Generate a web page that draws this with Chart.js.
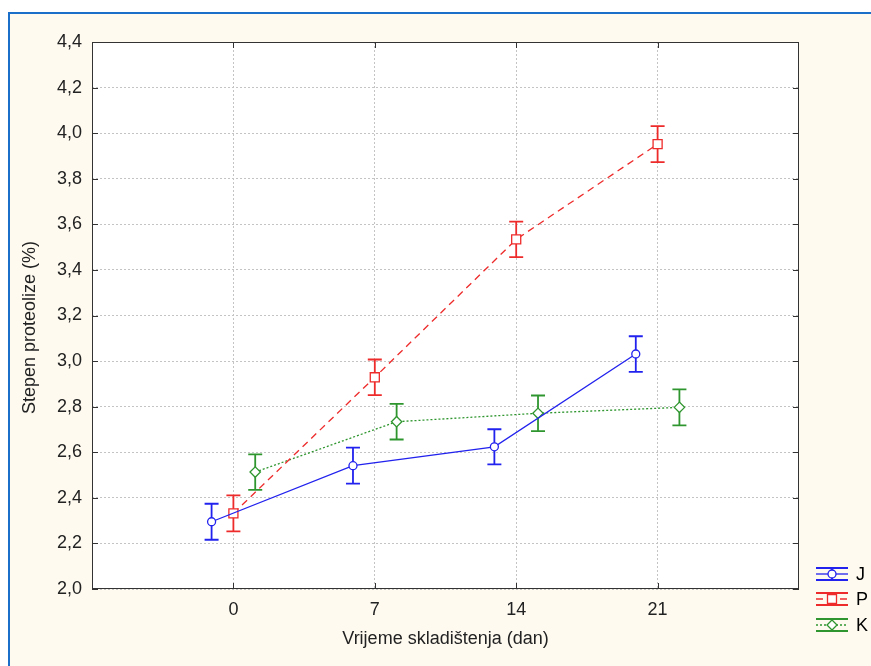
<!DOCTYPE html>
<html>
<head>
<meta charset="utf-8">
<script src="https://cdn.jsdelivr.net/npm/chart.js@4/dist/chart.umd.min.js"></script>
<style>
  html, body { margin: 0; padding: 0; background: #ffffff; }
  #wrap { width: 871px; height: 666px; }
</style>
</head>
<body>
<div id="wrap"><canvas id="c" width="871" height="666"></canvas></div>
<script>
// Storage days and tick labels
const days = [0, 7, 14, 21];
const xTickLabels = ['0', '7', '14', '21'];
const yTicks = [2.0, 2.2, 2.4, 2.6, 2.8, 3.0, 3.2, 3.4, 3.6, 3.8, 4.0, 4.2, 4.4];

// Series names
const seriesNames = ['J', 'P', 'K'];

// Means and error half-widths for each series
const jMean = [2.295, 2.541, 2.624, 3.031];
const jErr  = [0.079, 0.079, 0.077, 0.078];
const pMean = [2.332, 2.929, 3.534, 3.952];
const pErr  = [0.079, 0.078, 0.078, 0.079];
const kMean = [2.513, 2.734, 2.771, 2.797];
const kErr  = [0.078, 0.078, 0.078, 0.079];

const FONT = "'Liberation Sans', Arial, sans-serif";
const styles = [
  { color: '#2222ee', dash: [], point: 'circle', radius: 4, icon: 4 },
  { color: '#ee2b2b', dash: [7, 5], point: 'rect', radius: 6.4, icon: 4.5 },
  { color: '#2f962f', dash: [2, 2], point: 'rectRot', radius: 5.2, icon: 5 }
];
const dodge = [-1.08, 0, 1.08];
const means = [jMean, pMean, kMean];
const errs = [jErr, pErr, kErr];

const datasets = seriesNames.map((name, s) => ({
  label: name,
  data: days.map((d, i) => ({ x: d + dodge[s], y: means[s][i] })),
  errors: errs[s],
  iconSize: styles[s].icon,
  borderColor: styles[s].color,
  backgroundColor: '#ffffff',
  borderWidth: 1.3,
  borderDash: styles[s].dash,
  pointStyle: styles[s].point,
  pointRadius: styles[s].radius,
  pointBorderWidth: 1.3,
  pointBorderColor: styles[s].color,
  pointBackgroundColor: '#ffffff',
  tension: 0,
  fill: false
}));

// Frame, panel background and white plot area
const backdrop = {
  id: 'backdrop',
  beforeDraw(chart) {
    const { ctx, chartArea: a } = chart;
    ctx.save();
    ctx.fillStyle = '#ffffff';
    ctx.fillRect(0, 0, chart.width, chart.height);
    ctx.fillStyle = '#fefaf0';
    ctx.fillRect(9, 14, chart.width - 9, chart.height - 14);
    ctx.fillStyle = '#1b6fc9';
    ctx.fillRect(8, 12, chart.width - 8, 2);
    ctx.fillRect(8, 12, 2, chart.height - 12);
    ctx.fillStyle = '#ffffff';
    ctx.fillRect(a.left, a.top, a.right - a.left, a.bottom - a.top);
    ctx.restore();
  }
};

// Error bars drawn under the markers
const errorBars = {
  id: 'errorBars',
  beforeDatasetsDraw(chart) {
    const { ctx } = chart;
    const ys = chart.scales.y;
    ctx.save();
    chart.data.datasets.forEach((ds, s) => {
      const meta = chart.getDatasetMeta(s);
      ctx.strokeStyle = ds.borderColor;
      ctx.lineWidth = 1.8;
      ctx.setLineDash([]);
      meta.data.forEach((pt, i) => {
        const v = ds.data[i].y, e = ds.errors[i];
        const yTop = ys.getPixelForValue(v + e);
        const yBot = ys.getPixelForValue(v - e);
        const x = pt.x, cap = 7;
        ctx.beginPath();
        ctx.moveTo(x, yTop); ctx.lineTo(x, yBot);
        ctx.moveTo(x - cap, yTop); ctx.lineTo(x + cap, yTop);
        ctx.moveTo(x - cap, yBot); ctx.lineTo(x + cap, yBot);
        ctx.stroke();
      });
    });
    ctx.restore();
  }
};

// Plot box, inward tick marks, y title and the legend
const frame = {
  id: 'frame',
  afterDraw(chart) {
    const { ctx, chartArea: a } = chart;
    const xs = chart.scales.x, ys = chart.scales.y;
    ctx.save();
    ctx.strokeStyle = '#333333';
    ctx.lineWidth = 1;
    ctx.setLineDash([]);
    ctx.strokeRect(Math.round(a.left) + 0.5, Math.round(a.top) + 0.5,
      Math.round(a.right - a.left) - 1, Math.round(a.bottom - a.top) - 1);
    ctx.beginPath();
    const t = 6;
    ys.ticks.forEach(tk => {
      const y = Math.round(ys.getPixelForValue(tk.value)) + 0.5;
      ctx.moveTo(a.left, y); ctx.lineTo(a.left + t, y);
      ctx.moveTo(a.right - t, y); ctx.lineTo(a.right, y);
    });
    xs.ticks.forEach(tk => {
      const x = Math.round(xs.getPixelForValue(tk.value)) + 0.5;
      ctx.moveTo(x, a.bottom); ctx.lineTo(x, a.bottom - t);
      ctx.moveTo(x, a.top); ctx.lineTo(x, a.top + t);
    });
    ctx.stroke();

    // y axis title
    ctx.save();
    ctx.translate(30, (a.top + a.bottom) / 2 + 12);
    ctx.rotate(-Math.PI / 2);
    ctx.fillStyle = '#222222';
    ctx.font = '18px ' + FONT;
    ctx.textAlign = 'center';
    ctx.textBaseline = 'middle';
    ctx.fillText('Stepen proteolize (%)', 0, 0);
    ctx.restore();

    // legend
    const lx0 = 816, lx1 = 848, lxm = 832;
    const rows = [574, 599, 625];
    chart.data.datasets.forEach((ds, s) => {
      const yc = rows[s], h = 6;
      ctx.strokeStyle = ds.borderColor;
      ctx.lineWidth = 1.8;
      ctx.setLineDash([]);
      ctx.beginPath();
      ctx.moveTo(lx0, yc - h); ctx.lineTo(lx1, yc - h);
      ctx.moveTo(lx0, yc + h); ctx.lineTo(lx1, yc + h);
      ctx.moveTo(lxm, yc - h); ctx.lineTo(lxm, yc + h);
      ctx.stroke();
      ctx.lineWidth = 1.3;
      ctx.setLineDash(ds.borderDash);
      ctx.beginPath();
      ctx.moveTo(lx0, yc); ctx.lineTo(lx1, yc);
      ctx.stroke();
      ctx.setLineDash([]);
      ctx.fillStyle = '#ffffff';
      ctx.lineWidth = 1.3;
      ctx.beginPath();
      const r = ds.iconSize;
      if (ds.pointStyle === 'circle') {
        ctx.arc(lxm, yc, r, 0, Math.PI * 2);
      } else if (ds.pointStyle === 'rect') {
        ctx.rect(lxm - r, yc - r, 2 * r, 2 * r);
      } else {
        ctx.moveTo(lxm, yc - r); ctx.lineTo(lxm + r, yc);
        ctx.lineTo(lxm, yc + r); ctx.lineTo(lxm - r, yc); ctx.closePath();
      }
      ctx.fill(); ctx.stroke();
      ctx.fillStyle = '#000000';
      ctx.font = '18px ' + FONT;
      ctx.textBaseline = 'middle';
      ctx.textAlign = 'left';
      ctx.fillText(ds.label, 856, yc + 1);
    });
    ctx.restore();
  }
};

new Chart(document.getElementById('c'), {
  type: 'line',
  data: { datasets },
  options: {
    responsive: false,
    animation: false,
    layout: { padding: { top: 42, right: 72, left: 0, bottom: 0 } },
    plugins: { legend: { display: false }, tooltip: { enabled: false } },
    scales: {
      x: {
        type: 'linear',
        min: -7, max: 28,
        afterBuildTicks(scale) { scale.ticks = days.map(v => ({ value: v })); },
        afterFit(scale) { scale.height = 77; },
        ticks: {
          padding: 10,
          color: '#222222',
          font: { family: FONT, size: 18 },
          callback(v) { const i = days.indexOf(v); return i >= 0 ? xTickLabels[i] : ''; }
        },
        grid: { color: '#c4c4c4', lineWidth: 1, drawTicks: false },
        border: { display: false, dash: [2, 2] },
        title: {
          display: true, text: 'Vrijeme skladištenja (dan)', color: '#222222',
          font: { family: FONT, size: 18 }, padding: { top: 0, bottom: 16 }
        }
      },
      y: {
        type: 'linear',
        min: 2.0, max: 4.4,
        afterBuildTicks(scale) { scale.ticks = yTicks.map(v => ({ value: v })); },
        afterFit(scale) { scale.width = 92; },
        ticks: {
          padding: 10,
          color: '#222222',
          font: { family: FONT, size: 18 },
          callback(v) { return v.toFixed(1).replace('.', ','); }
        },
        grid: { color: '#c4c4c4', lineWidth: 1, drawTicks: false },
        border: { display: false, dash: [2, 2] },
        title: { display: false }
      }
    }
  },
  plugins: [backdrop, errorBars, frame]
});
</script>
</body>
</html>
